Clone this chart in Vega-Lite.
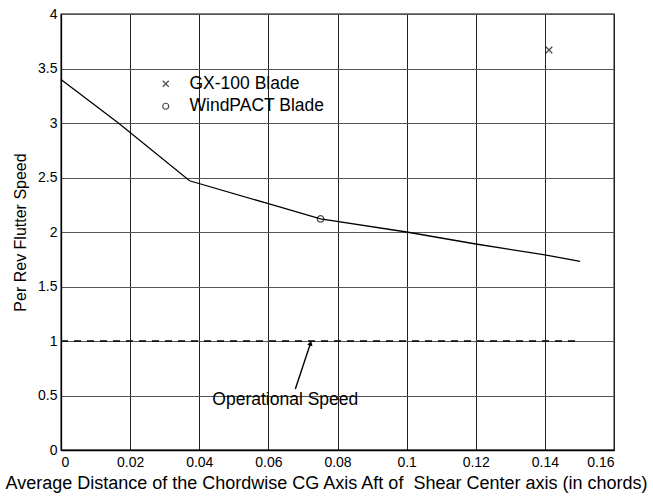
{
  "$schema": "https://vega.github.io/schema/vega-lite/v6.json",
  "autosize": {"type": "none"},
  "width": 553,
  "height": 436,
  "padding": {"left": 61, "top": 14, "right": 39, "bottom": 47},
  "background": "white",
  "config": {
    "font": "Liberation Sans",
    "view": {"stroke": "#000", "strokeWidth": 1.3},
    "axis": {
      "domainColor": "#000",
      "domainWidth": 1.3,
      "grid": true,
      "gridColor": "#333",
      "gridWidth": 1,
      "gridOpacity": 1,
      "ticks": false,
      "labelColor": "#000",
      "labelFontSize": 14,
      "labelFont": "Liberation Sans",
      "titleFont": "Liberation Sans",
      "titleFontWeight": "normal",
      "titleColor": "#000"
    }
  },
  "datasets": {
    "curve": [
      {"x": 0.0, "y": 3.40},
      {"x": 0.0166, "y": 3.0},
      {"x": 0.0372, "y": 2.47},
      {"x": 0.06, "y": 2.26},
      {"x": 0.0751, "y": 2.12},
      {"x": 0.1, "y": 2.0},
      {"x": 0.12, "y": 1.89},
      {"x": 0.14, "y": 1.79},
      {"x": 0.1502, "y": 1.73}
    ],
    "blades": [
      {"blade": "GX-100 Blade", "x": 0.1412, "y": 3.67},
      {"blade": "WindPACT Blade", "x": 0.0751, "y": 2.12}
    ],
    "operational": [
      {"x0": 0.0, "x1": 0.149, "y": 1.0}
    ],
    "arrow": [
      {"x0": 0.0678, "y0": 0.56, "x1": 0.0722, "y1": 0.98, "label": "Operational Speed", "tx": 0.0649, "ty": 0.455}
    ]
  },
  "layer": [
    {
      "data": {"name": "curve"},
      "mark": {"type": "line", "color": "#000", "strokeWidth": 1.3},
      "encoding": {
        "x": {
          "field": "x", "type": "quantitative",
          "scale": {"domain": [0, 0.16], "nice": false},
          "axis": {
            "values": [0, 0.02, 0.04, 0.06, 0.08, 0.1, 0.12, 0.14, 0.16],
            "format": "~g",
            "labelPadding": 5,
            "title": "Average Distance of the Chordwise CG Axis Aft of\u00a0 Shear Center axis (in chords)",
            "titleFontSize": 18,
            "titlePadding": 5,
            "titleX": 265,
            "titleAlign": "center",
            "titleAnchor": "start",
            "gridColor": "#222"
          }
        },
        "y": {
          "field": "y", "type": "quantitative",
          "scale": {"domain": [0, 4], "nice": false},
          "axis": {
            "values": [0, 0.5, 1, 1.5, 2, 2.5, 3, 3.5, 4],
            "format": "~g",
            "labelPadding": 4,
            "title": "Per Rev Flutter Speed",
            "titleFontSize": 16,
            "titlePadding": 9,
            "gridColor": "#555"
          }
        }
      }
    },
    {
      "data": {"name": "operational"},
      "mark": {"type": "rule", "color": "#000", "strokeWidth": 1.4, "strokeDash": [7, 6]},
      "encoding": {
        "x": {"field": "x0", "type": "quantitative"},
        "x2": {"field": "x1"},
        "y": {"field": "y", "type": "quantitative"}
      }
    },
    {
      "data": {"name": "blades"},
      "mark": {"type": "point", "filled": false, "color": "#000", "strokeWidth": 1.3, "size": 42},
      "encoding": {
        "x": {"field": "x", "type": "quantitative"},
        "y": {"field": "y", "type": "quantitative"},
        "shape": {
          "field": "blade", "type": "nominal",
          "scale": {"domain": ["GX-100 Blade", "WindPACT Blade"], "range": ["M-1,-1L1,1M-1,1L1,-1", "circle"]},
          "legend": {
            "title": null,
            "orient": "none",
            "legendX": 96,
            "legendY": 61,
            "padding": 0,
            "labelFontSize": 17.5,
            "labelFont": "Liberation Sans",
            "labelColor": "#000",
            "labelOffset": 15,
            "rowPadding": 3.5,
            "symbolSize": 36,
            "symbolStrokeColor": "#000",
            "symbolFillColor": "transparent",
            "symbolStrokeWidth": 1.2
          }
        }
      }
    },
    {
      "data": {"name": "arrow"},
      "mark": {"type": "rule", "color": "#000", "strokeWidth": 1.4},
      "encoding": {
        "x": {"field": "x0", "type": "quantitative"},
        "y": {"field": "y0", "type": "quantitative"},
        "x2": {"field": "x1"},
        "y2": {"field": "y1"}
      }
    },
    {
      "data": {"name": "arrow"},
      "mark": {"type": "point", "shape": "triangle-up", "filled": true, "color": "#000", "size": 30, "angle": 17, "opacity": 1},
      "encoding": {
        "x": {"field": "x1", "type": "quantitative"},
        "y": {"field": "y1", "type": "quantitative"}
      }
    },
    {
      "data": {"name": "arrow"},
      "mark": {"type": "text", "fontSize": 17.5, "font": "Liberation Sans", "color": "#000", "align": "center", "baseline": "middle"},
      "encoding": {
        "x": {"field": "tx", "type": "quantitative"},
        "y": {"field": "ty", "type": "quantitative"},
        "text": {"field": "label"}
      }
    }
  ]
}
